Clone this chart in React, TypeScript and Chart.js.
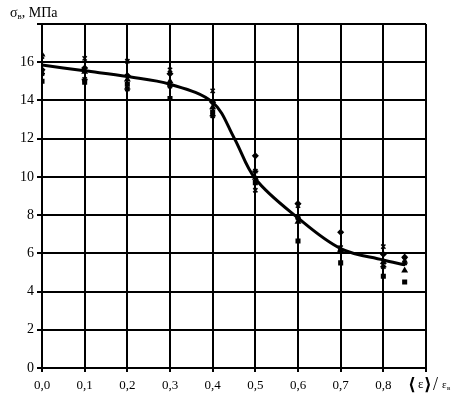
import { useEffect, useRef } from "react";
import { Chart, registerables } from "chart.js";

Chart.register(...registerables);

const xPositions = [0, 0.1, 0.2, 0.3, 0.4, 0.5, 0.6, 0.7, 0.8, 0.85];
const diamondValues = [15.6, 15.7, 15.3, 15.4, 13.9, 11.1, 8.6, 7.1, 5.95, 5.8];
const squareValues = [15.0, 14.95, 14.85, 14.1, 13.4, 9.7, 6.65, 5.5, 4.8, 4.5];
const triangleValues = [16.4, 15.5, 15.1, 15.0, 13.65, 9.95, 7.65, 6.2, 5.55, 5.1];
const crossValues = [16.3, 16.2, 16.05, 15.6, 14.5, 9.3, 8.5, 6.3, 6.35, 5.65];
const starValues = [15.4, 15.1, 14.6, 14.75, 13.2, 10.3, 7.85, 6.1, 5.3, 5.5];

const curveX = [0, 0.1, 0.2, 0.3, 0.4, 0.45, 0.5, 0.6, 0.7, 0.8, 0.85];
const curveY = [15.85, 15.55, 15.25, 14.85, 13.9, 12.05, 9.9, 7.85, 6.25, 5.65, 5.4];

const yTicks = [0, 2, 4, 6, 8, 10, 12, 14, 16, 18];
const xTickLabels = ["0,0", "0,1", "0,2", "0,3", "0,4", "0,5", "0,6", "0,7", "0,8", ""];

const FONT = '"Liberation Serif", "Times New Roman", serif';

const pts = (ys: number[]) => xPositions.map((x, i) => ({ x, y: ys[i] }));

export default function App() {
  const ref = useRef<HTMLCanvasElement | null>(null);
  useEffect(() => {
    if (!ref.current) return;
    const labelsPlugin = {
      id: "customLabels",
      afterDraw(chart: any) {
        const ctx = chart.ctx;
        ctx.save();
        ctx.fillStyle = "#000";
        ctx.textBaseline = "alphabetic";
        ctx.textAlign = "left";
        // y title
        let x = 10;
        ctx.font = `14px ${FONT}`;
        ctx.fillText("σ", x, 17);
        x += ctx.measureText("σ").width;
        ctx.font = `9px ${FONT}`;
        ctx.fillText("в", x, 19);
        x += ctx.measureText("в").width;
        ctx.font = `14px ${FONT}`;
        ctx.fillText(", МПа", x, 17);
        // x title
        const by = 389;
        ctx.font = `bold 17px "DejaVu Sans", sans-serif`;
        ctx.fillText("⟨", 408, by + 1);
        ctx.font = `13px ${FONT}`;
        ctx.fillText("ε", 418, by - 1);
        ctx.font = `bold 17px "DejaVu Sans", sans-serif`;
        ctx.fillText("⟩", 424, by + 1);
        ctx.font = `18px ${FONT}`;
        ctx.fillText("/", 433, by + 1);
        ctx.font = `11px ${FONT}`;
        ctx.fillText("ε", 442, by - 1);
        ctx.font = `7px ${FONT}`;
        ctx.fillText("в", 447, by + 1);
        ctx.restore();
      },
    };
    const pointDs = (label: string, data: number[], style: string, r: number) => ({
      type: "scatter" as const,
      label,
      data: pts(data),
      pointStyle: style,
      pointRadius: r,
      backgroundColor: "#000",
      borderColor: "#000",
      borderWidth: 1.5,
      showLine: false,
    });
    const chart = new Chart(ref.current, {
      type: "scatter",
      data: {
        datasets: [
          {
            type: "line" as const,
            label: "curve",
            data: curveX.map((x, i) => ({ x, y: curveY[i] })),
            borderColor: "#000",
            borderWidth: 3,
            pointRadius: 0,
            tension: 0.35,
            fill: false,
          } as any,
          pointDs("diamond", diamondValues, "rectRot", 2.5),
          pointDs("square", squareValues, "rect", 2.5),
          pointDs("triangle", triangleValues, "triangle", 2.5),
          pointDs("cross", crossValues, "crossRot", 3),
          pointDs("star", starValues, "star", 3),
        ],
      },
      options: {
        animation: false,
        responsive: false,
        maintainAspectRatio: false,
        layout: { padding: { left: 0, right: 32, top: 24, bottom: 0 } },
        plugins: { legend: { display: false }, tooltip: { enabled: false } },
        scales: {
          x: {
            type: "linear",
            min: 0,
            max: 0.9,
            afterFit(scale: any) {
              scale.height = 28;
            },
            afterBuildTicks(scale: any) {
              scale.ticks = xTickLabels.map((_, i) => ({ value: i / 10 }));
            },
            ticks: {
              color: "#000",
              font: { family: FONT, size: 13 },
              padding: 6,
              maxRotation: 0,
              autoSkip: false,
              callback: (_v: any, i: number) => xTickLabels[i],
            },
            grid: { color: "#000", lineWidth: 2, tickLength: 4, drawTicks: true },
            border: { color: "#000", width: 2 },
          },
          y: {
            type: "linear",
            min: 0,
            max: 18,
            afterFit(scale: any) {
              scale.width = 42;
            },
            afterBuildTicks(scale: any) {
              scale.ticks = yTicks.map((v) => ({ value: v }));
            },
            ticks: {
              color: "#000",
              font: { family: FONT, size: 14 },
              padding: 3,
              autoSkip: false,
              callback: (v: any) => (v === 18 ? "" : String(v)),
            },
            grid: { color: "#000", lineWidth: 2, tickLength: 5 },
            border: { color: "#000", width: 2 },
          },
        },
      },
      plugins: [labelsPlugin],
    } as any);
    return () => chart.destroy();
  }, []);
  return (
    <div style={{ position: "fixed", left: 0, top: 0, width: 458, height: 396, background: "#fff" }}>
      <canvas ref={ref} width={458} height={396} style={{ width: 458, height: 396 }} />
    </div>
  );
}
